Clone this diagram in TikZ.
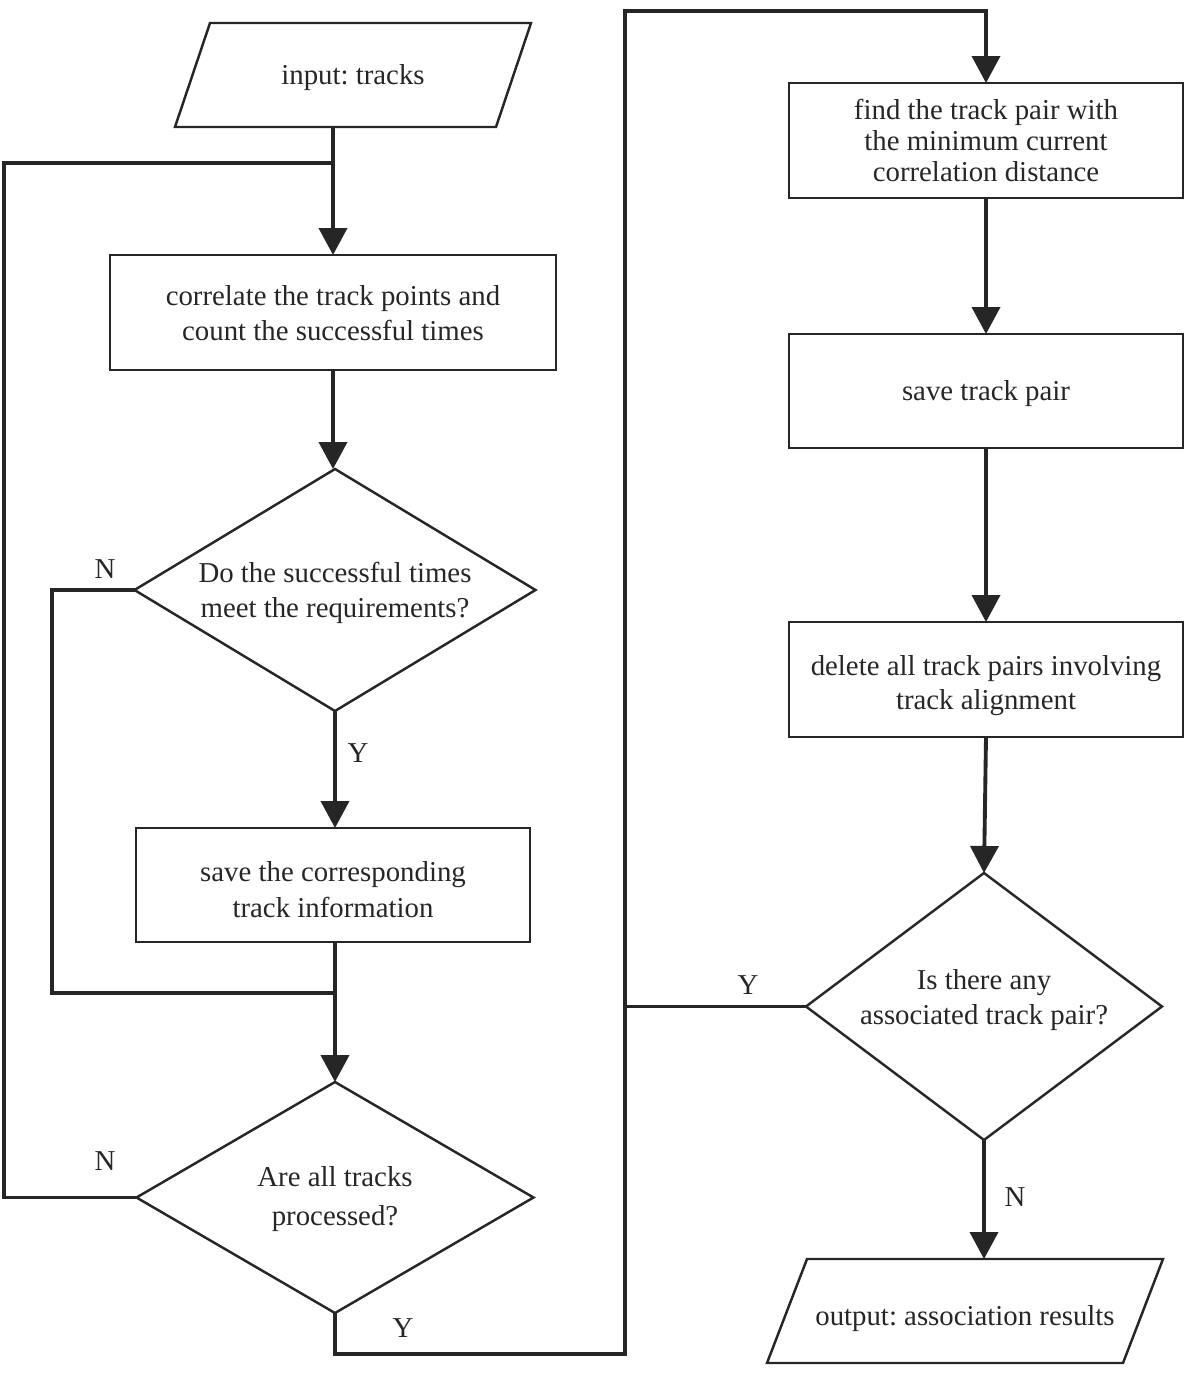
\documentclass[tikz,border=0pt]{standalone}
\usepackage{fontspec}
\setmainfont{Liberation Serif}
\usetikzlibrary{arrows.meta,shapes.geometric}
\definecolor{ink}{HTML}{262626}
\frenchspacing
% shift a (multi-line) text block down by #1 without changing its size
\newcommand{\shtext}[2]{\raisebox{#1}[\height][\depth]{\begin{tabular}{@{}c@{}}#2\end{tabular}}}
\tikzset{
  txt/.style={text=ink, font=\fontsize{16.4}{19.85}\selectfont, align=center},
  shp/.style={txt, draw=ink, line width=1.4pt, inner sep=0pt, outer sep=0pt},
  procbox/.style={shp, rectangle, minimum width=394*0.02cm, minimum height=115*0.02cm},
  decision/.style={shp, diamond},
  io/.style={txt, rectangle, inner sep=0pt, outer sep=0pt, minimum height=104*0.02cm},
  ioline/.style={draw=ink, line width=1.4pt, line join=miter},
  flow/.style={draw=ink, line width=2.2pt, line join=miter},
  arr/.style={flow, -{Triangle[width=0.56cm,length=0.54cm]}},
  lbl/.style={txt, inner sep=0pt},
}
\begin{document}
\begin{tikzpicture}[x=0.02cm,y=-0.02cm]
\useasboundingbox (0,0) rectangle (1185,1389);

% left column
\node[io, minimum width=321*0.02cm] (in) at (353,75) {\shtext{-1.7pt}{input: tracks}};
\draw[ioline] ([xshift=17.5*0.02cm]in.north west) -- ([xshift=17.5*0.02cm]in.north east)
  -- ([xshift=-17.5*0.02cm]in.south east) -- ([xshift=-17.5*0.02cm]in.south west) -- cycle;

\node[procbox, minimum width=446*0.02cm] (b1) at (333,312.5) {\shtext{-2.2pt}{correlate the track points and\\count the successful times}};
\node[decision, aspect=1.66, minimum width=401*0.02cm, minimum height=242*0.02cm] (d1) at (335,590) {\shtext{-1.7pt}{Do the successful times\\meet the requirements?}};
\node[procbox, minimum height=114*0.02cm] (b2) at (333,885) {\shtext{-4.2pt}{save the corresponding\\[1pt]track information}};
\node[decision, aspect=1.72, minimum width=397*0.02cm, minimum height=231*0.02cm] (d2) at (335,1197.5) {\shtext{-1pt}{Are all tracks\\[2.5pt]processed?}};

% right column
\node[procbox, font=\fontsize{16.4}{17.6}\selectfont] (b3) at (986,140.5) {\shtext{-2.3pt}{find the track pair with\\the minimum current\\correlation distance}};
\node[procbox, minimum height=114*0.02cm] (b4) at (986,391) {\shtext{-1.7pt}{save track pair}};
\node[procbox] (b5) at (986,679.5) {\shtext{-3.4pt}{delete all track pairs involving\\track alignment}};
\node[decision, aspect=1.33, minimum width=356*0.02cm, minimum height=267*0.02cm] (d3) at (984,1006.5) {\shtext{3.7pt}{Is there any\\associated track pair?}};
\node[io, minimum width=356*0.02cm] (out) at (965,1311) {\shtext{-4pt}{output: association results}};
\draw[ioline] ([xshift=20*0.02cm]out.north west) -- ([xshift=20*0.02cm]out.north east)
  -- ([xshift=-20*0.02cm]out.south east) -- ([xshift=-20*0.02cm]out.south west) -- cycle;

% helper coordinates
\coordinate (topjoin) at (4,163);
\coordinate (innerjoin) at (52,993);
\coordinate (ybottom) at (625,1354);
\coordinate (ytop) at (625,11);

% connectors left
\draw[arr] (in.south -| b1.north) -- (b1.north);
\draw[arr] (b1.south) -- (b1.south |- d1.north);
\draw[arr] (d1.south) -- (d1.south |- b2.north);
\draw[arr] (b2.south -| d2.north) -- (d2.north);
\draw[flow] (d1.west) -| (innerjoin) -- (innerjoin -| d2.north);
\draw[flow] (d2.west) -| (topjoin) -- (topjoin -| b1.north);
\draw[arr] (d2.south) |- (ybottom) -- (ytop) -| (b3.north);

% connectors right
\draw[arr] (b3.south) -- (b4.north);
\draw[arr] (b4.south) -- (b5.north);
\draw[arr] (b5.south) -- (d3.north);
\draw[flow] (d3.west) -- (d3.west -| ybottom);
\draw[arr] (d3.south) -- (d3.south |- out.north);

% labels
\node[lbl] (n1) at (105,569) {N};
\node[lbl] (y1) at (358,753) {Y};
\node[lbl] (n2) at (105,1161) {N};
\node[lbl] (y2) at (403,1328) {Y};
\node[lbl] (y3) at (748,985) {Y};
\node[lbl] (n3) at (1015,1197) {N};
\end{tikzpicture}
\end{document}
